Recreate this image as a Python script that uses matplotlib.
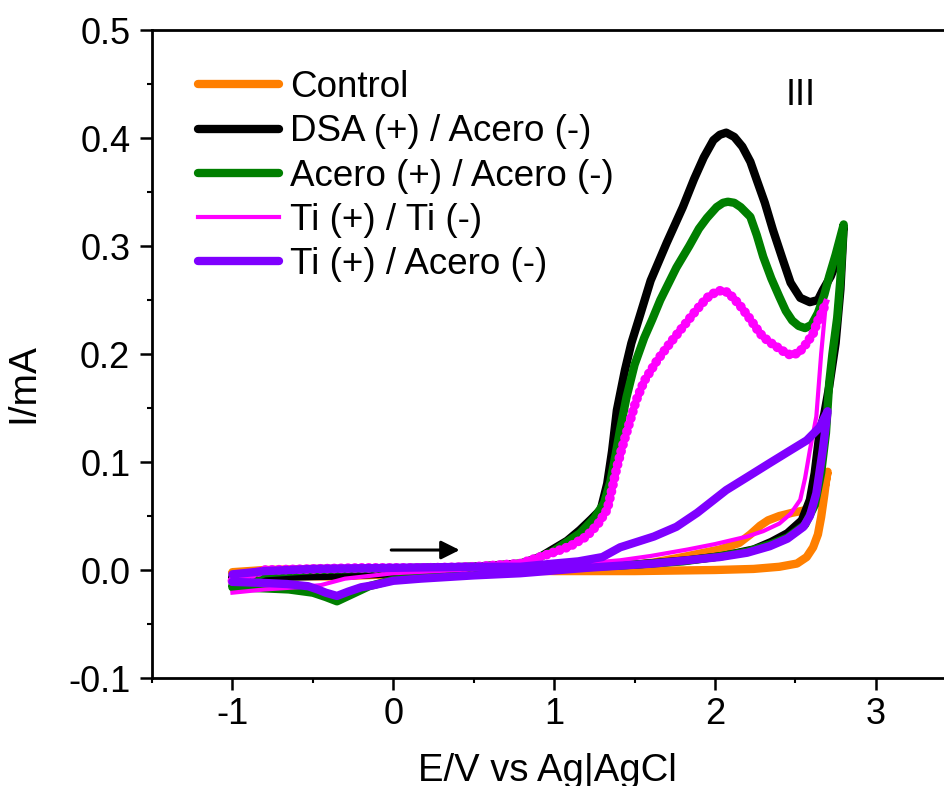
import matplotlib
matplotlib.use("Agg")
import matplotlib.pyplot as plt
from matplotlib.ticker import MultipleLocator, FormatStrFormatter

plt.rcParams["font.family"] = ["Liberation Sans", "DejaVu Sans"]
plt.rcParams["axes.unicode_minus"] = False

# voltamperogramas: potencial (V vs Ag|AgCl) y corriente (mA)
# cada serie es un ciclo: barrido de ida y luego de regreso

E_control = [-1.0, -0.8, -0.5, 0.0, 0.5, 1.0, 1.5, 2.0, 2.24, 2.40, 2.51, 2.57, 2.61, 2.64,
             2.66, 2.68, 2.69, 2.70,
             2.68, 2.65, 2.60, 2.55, 2.48, 2.40, 2.33, 2.28, 2.22, 2.15, 2.03, 1.80, 1.62,
             1.41, 1.0, 0.5, 0.0, -0.4, -0.8, -1.0]
I_control = [-0.002, 0.000, 0.001, 0.001, 0.000, -0.001, -0.001, 0.000, 0.001, 0.003, 0.006,
             0.012, 0.021, 0.033, 0.049, 0.070, 0.082, 0.091,
             0.075, 0.065, 0.058, 0.055, 0.053, 0.050, 0.046, 0.041, 0.033, 0.025, 0.019,
             0.012, 0.007, 0.003, 0.000, -0.002, -0.004, -0.006, -0.005, -0.003]

E_dsa = [-1.0, -0.8, -0.5, -0.2, 0.2, 0.5, 0.79, 0.9, 0.99, 1.08, 1.16, 1.23, 1.29, 1.33,
         1.36, 1.39, 1.44, 1.48, 1.53, 1.60, 1.70, 1.80, 1.87, 1.93, 1.99, 2.03, 2.07, 2.12,
         2.17, 2.22, 2.26, 2.31, 2.36, 2.42, 2.47, 2.53, 2.59, 2.64, 2.67, 2.72, 2.76, 2.80,
         2.78, 2.75, 2.71, 2.68, 2.65, 2.62, 2.59, 2.54, 2.45, 2.35, 2.24, 2.05, 1.83, 1.5,
         1.0, 0.5, 0.0, -0.3, -0.6, -0.8, -1.0]
I_dsa = [-0.006, -0.001, 0.000, 0.001, 0.002, 0.003, 0.006, 0.011, 0.019, 0.027, 0.037,
         0.047, 0.056, 0.080, 0.110, 0.148, 0.185, 0.210, 0.234, 0.268, 0.303, 0.336, 0.362,
         0.382, 0.398, 0.403, 0.405, 0.401, 0.392, 0.378, 0.361, 0.340, 0.315, 0.288, 0.266,
         0.252, 0.248, 0.250, 0.259, 0.272, 0.287, 0.318,
         0.260, 0.210, 0.170, 0.145, 0.127, 0.090, 0.065, 0.046, 0.034, 0.026, 0.019, 0.013,
         0.009, 0.005, 0.002, -0.001, -0.003, -0.005, -0.006, -0.007, -0.008]

E_acero = [-1.0, -0.8, -0.5, -0.2, 0.2, 0.5, 0.79, 0.99, 1.16, 1.25, 1.31, 1.35, 1.38, 1.41,
           1.45, 1.50, 1.56, 1.61, 1.66, 1.71, 1.76, 1.84, 1.90, 1.95, 2.01, 2.05, 2.08, 2.12,
           2.16, 2.22, 2.26, 2.30, 2.35, 2.40, 2.44, 2.48, 2.52, 2.56, 2.60, 2.64, 2.68, 2.71,
           2.75, 2.80,
           2.78, 2.76, 2.73, 2.71, 2.69, 2.66, 2.62, 2.56, 2.45, 2.35, 2.2, 2.0, 1.8, 1.5,
           1.0, 0.5, 0.2, 0.0, -0.15, -0.25, -0.35, -0.42, -0.5, -0.65, -0.8, -1.0]
I_acero = [-0.014, -0.003, 0.000, 0.001, 0.002, 0.003, 0.005, 0.017, 0.034, 0.048, 0.062,
           0.082, 0.105, 0.130, 0.160, 0.190, 0.215, 0.232, 0.250, 0.265, 0.280, 0.300, 0.316,
           0.326, 0.336, 0.340, 0.341, 0.340, 0.336, 0.327, 0.310, 0.290, 0.270, 0.253, 0.240,
           0.231, 0.226, 0.224, 0.227, 0.238, 0.255, 0.272, 0.292, 0.320,
           0.270, 0.234, 0.200, 0.173, 0.127, 0.090, 0.060, 0.042, 0.030, 0.024, 0.017, 0.012,
           0.008, 0.005, 0.001, -0.002, -0.006, -0.009, -0.015, -0.022, -0.029, -0.025, -0.021,
           -0.018, -0.017, -0.016]

# Ti/Ti: la ida va punteada y gruesa, el regreso en trazo fino
E_ti_ida = [-1.0, -0.8, -0.5, -0.2, 0.2, 0.5, 0.79, 0.99, 1.1, 1.2, 1.27, 1.33, 1.36, 1.39,
            1.42, 1.45, 1.48, 1.51, 1.56, 1.64, 1.72, 1.80, 1.88, 1.95, 2.00, 2.04, 2.08, 2.12,
            2.16, 2.22, 2.28, 2.33, 2.38, 2.43, 2.47, 2.52, 2.57, 2.61, 2.64, 2.67, 2.69]
I_ti_ida = [-0.010, 0.000, 0.001, 0.002, 0.002, 0.003, 0.006, 0.016, 0.022, 0.031, 0.042,
            0.056, 0.075, 0.095, 0.112, 0.127, 0.142, 0.157, 0.175, 0.194, 0.210, 0.225, 0.240,
            0.252, 0.257, 0.259, 0.257, 0.251, 0.244, 0.232, 0.219, 0.212, 0.207, 0.202, 0.199,
            0.201, 0.210, 0.219, 0.231, 0.240, 0.248]
E_ti_reg = [2.69, 2.66, 2.63, 2.59, 2.56, 2.53, 2.47, 2.40, 2.30, 2.20, 2.0, 1.83, 1.6, 1.41,
            1.1, 0.79, 0.4, 0.0, -0.3, -0.45, -0.6, -0.8, -1.0]
I_ti_reg = [0.248, 0.200, 0.142, 0.111, 0.085, 0.065, 0.052, 0.043, 0.036, 0.031, 0.024,
            0.019, 0.013, 0.009, 0.005, 0.003, 0.000, -0.003, -0.008, -0.014, -0.016, -0.018,
            -0.021]

E_ti_acero = [-1.0, -0.8, -0.5, 0.0, 0.5, 0.79, 1.0, 1.15, 1.30, 1.41, 1.62, 1.76, 1.89, 2.07,
              2.20, 2.34, 2.46, 2.57, 2.65, 2.70,
              2.67, 2.63, 2.59, 2.55, 2.45, 2.34, 2.2, 2.03, 1.62, 1.2, 0.79, 0.5, 0.17, 0.0,
              -0.12, -0.2, -0.28, -0.35, -0.42, -0.47, -0.53, -0.66, -0.8, -1.0]
I_ti_acero = [-0.004, -0.001, 0.001, 0.002, 0.003, 0.003, 0.006, 0.008, 0.012, 0.021, 0.031,
              0.040, 0.053, 0.074, 0.086, 0.099, 0.110, 0.120, 0.132, 0.147,
              0.111, 0.071, 0.050, 0.040, 0.029, 0.022, 0.016, 0.012, 0.006, 0.002, -0.003,
              -0.005, -0.008, -0.010, -0.014, -0.016, -0.020, -0.024, -0.021, -0.018, -0.015,
              -0.013, -0.012, -0.011]

etiquetas = ["Control", "DSA (+) / Acero (-)", "Acero (+) / Acero (-)",
             "Ti (+) / Ti (-)", "Ti (+) / Acero (-)"]
colores = ["#FF7F00", "#000000", "#007F00", "#FF00FF", "#7F00FF"]

fig = plt.figure(figsize=(9.44, 7.86), dpi=100)
ax = fig.add_axes([0.161, 0.1374, 0.852, 0.8244])

estilo = dict(lw=6, solid_joinstyle="round", solid_capstyle="round")
ax.plot(E_control, I_control, color=colores[0], label=etiquetas[0], **estilo)
ax.plot(E_dsa, I_dsa, color=colores[1], label=etiquetas[1], **estilo)
ax.plot(E_acero, I_acero, color=colores[2], label=etiquetas[2], **estilo)
ax.plot(E_ti_reg, I_ti_reg, color=colores[3], lw=3, label=etiquetas[3],
        solid_joinstyle="round")
ax.plot(E_ti_ida, I_ti_ida, color=colores[3], lw=4.5, solid_joinstyle="round")
ax.plot(E_ti_ida, I_ti_ida, color=colores[3], lw=7, linestyle=(0, (0.01, 0.7)),
        dash_capstyle="round")
ax.plot(E_ti_acero, I_ti_acero, color=colores[4], label=etiquetas[4], **estilo)

ax.annotate("", xy=(0.43, 0.0185), xytext=(-0.03, 0.0185),
            arrowprops=dict(arrowstyle="-|>", lw=2.2, color="black", mutation_scale=28))
ax.text(2.53, 0.439, "III", fontsize=26, ha="center", va="center")

ax.set_xlim(-1.5, 3.5)
ax.set_ylim(-0.1, 0.5)
ax.xaxis.set_major_locator(MultipleLocator(1))
ax.xaxis.set_minor_locator(MultipleLocator(0.5))
ax.yaxis.set_major_locator(MultipleLocator(0.1))
ax.yaxis.set_minor_locator(MultipleLocator(0.05))
ax.xaxis.set_major_formatter(FormatStrFormatter("%d"))
ax.yaxis.set_major_formatter(FormatStrFormatter("%.1f"))
ax.tick_params(which="major", direction="out", length=8.6, width=1.8, labelsize=26, pad=5)
ax.tick_params(which="minor", direction="out", length=3.8, width=1.5)
ax.tick_params(axis="y", which="major", pad=7)
for lado in ["left", "bottom", "top"]:
    ax.spines[lado].set_linewidth(2)
ax.spines["right"].set_visible(False)

ax.set_xlabel("E/V vs Ag|AgCl", fontsize=27.5)
ax.set_ylabel("I/mA", fontsize=28)
ax.xaxis.set_label_coords(0.492, -0.116)
ax.yaxis.set_label_coords(-0.138, 0.455)

leyenda = ax.legend(loc="upper left", bbox_to_anchor=(0.057, 0.938), frameon=False,
                    fontsize=26.5, handlelength=2.2, handletextpad=0.3, labelspacing=0.25,
                    borderpad=0, borderaxespad=0)
for linea in leyenda.get_lines():
    if linea.get_color() != colores[3]:
        linea.set_linewidth(6)

fig.savefig("out.png", dpi=100)
